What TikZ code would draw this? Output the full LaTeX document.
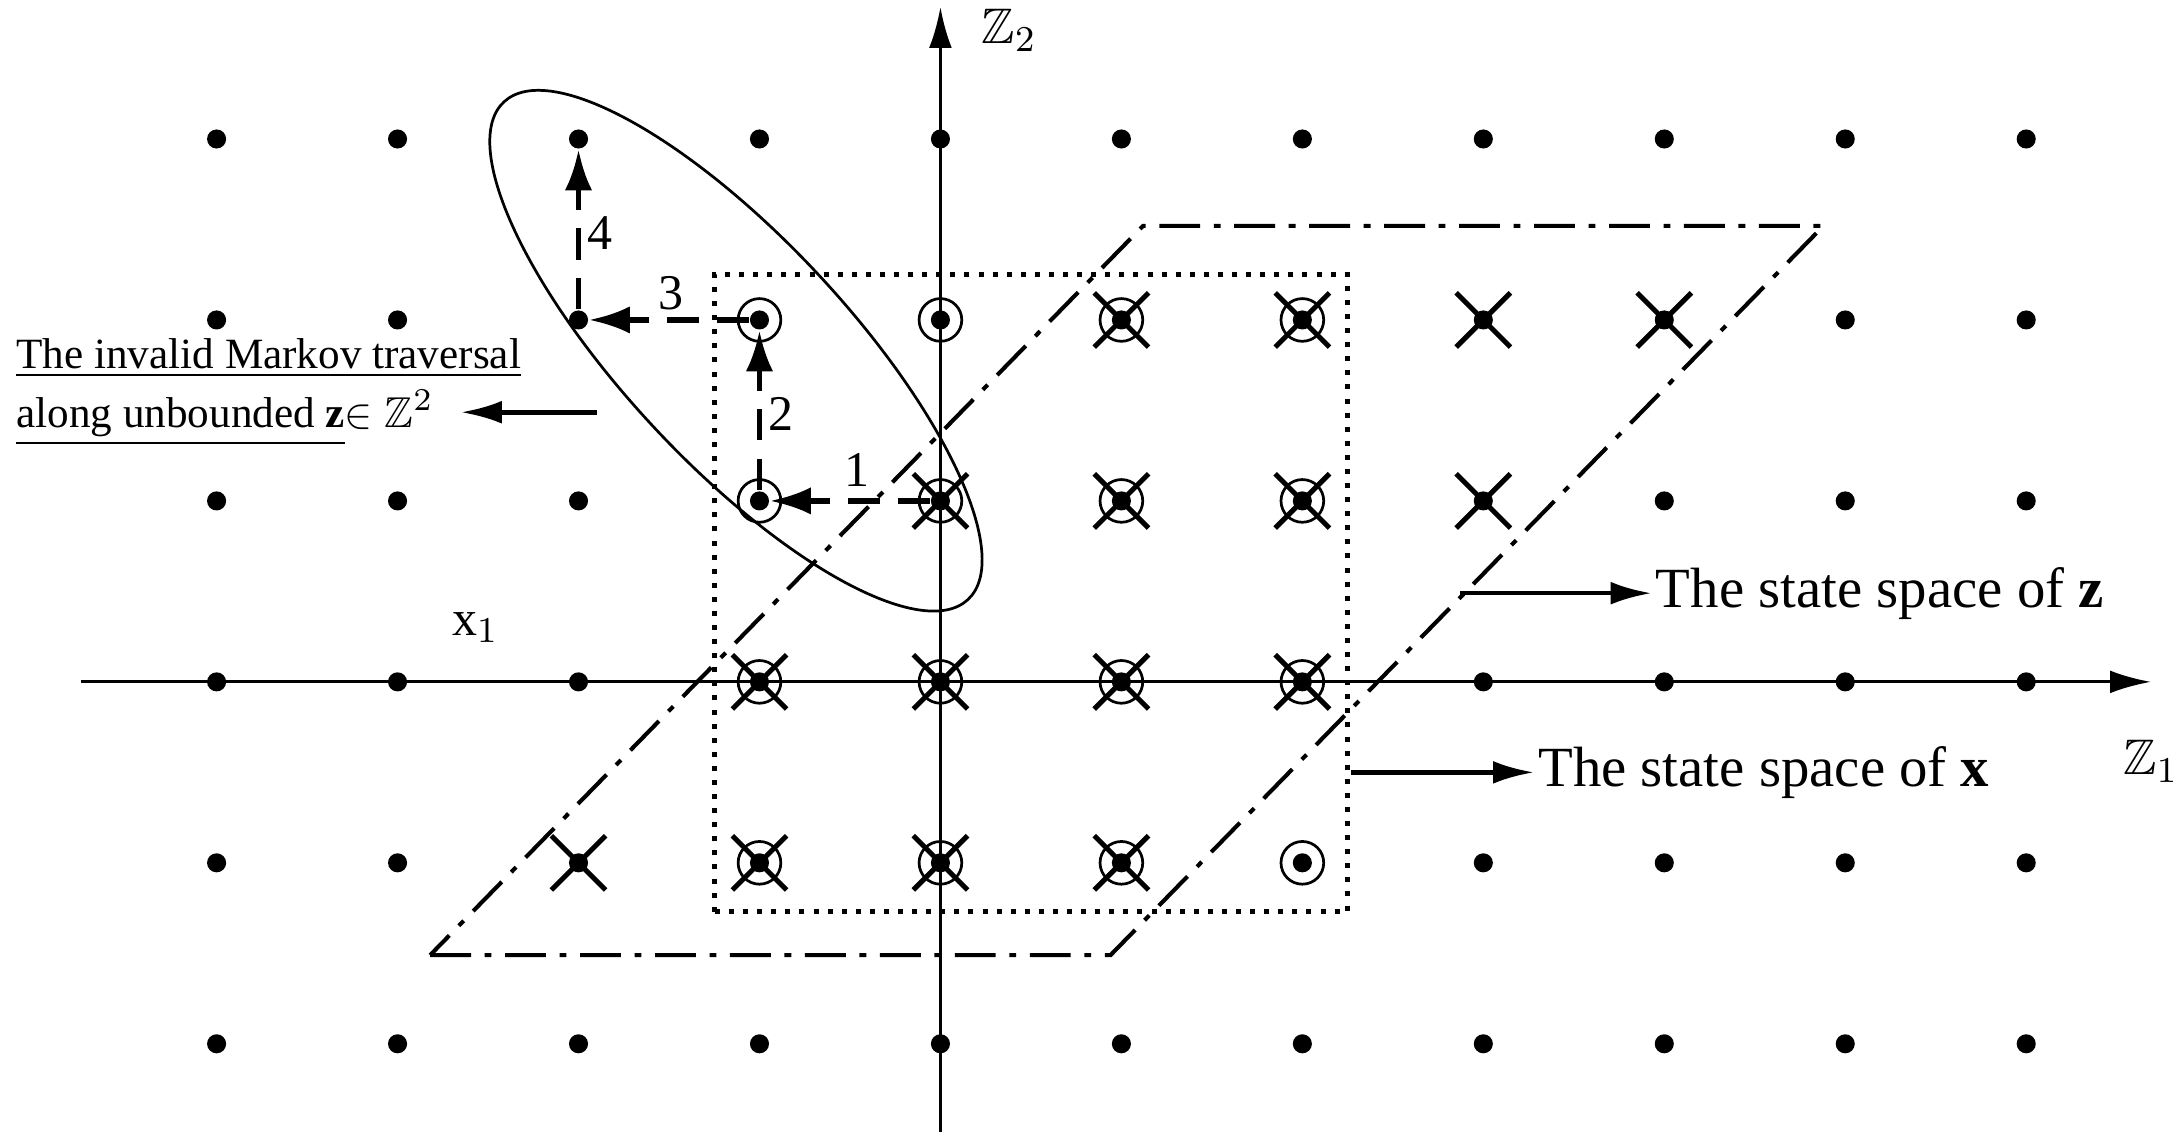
\documentclass[tikz,border=0pt]{standalone}
\usepackage{amssymb}
\usepackage{fontspec}
\setmainfont{Liberation Serif}
\usetikzlibrary{arrows.meta}
\tikzset{
  dot/.style={circle,fill=black,inner sep=0pt,minimum size=4.2pt},
  ring/.style={circle,draw,line width=0.6pt,inner sep=0pt,minimum size=9.4pt},
  walk/.style={line width=1.2pt,dash pattern=on 7pt off 4pt,-{Latex[length=9pt,width=6pt]}},
  pointer/.style={line width=1pt,-{Latex[length=9pt,width=5pt]}},
  lbl/.style={inner sep=0.75pt,font=\fontsize{11}{13}\selectfont}
}
\begin{document}
\begin{tikzpicture}[x=1.4cm,y=1.4cm,font=\fontsize{11}{13}\selectfont]
\useasboundingbox (-5.197,-2.525) rectangle (6.85,3.768);

% axes
\draw[line width=0.7pt,-{Latex[length=9pt,width=5pt]}] (-4.75,0) -- (6.69,0);
\draw[line width=0.7pt,-{Latex[length=9pt,width=5pt]}] (0,-2.49) -- (0,3.73);
\node[lbl] (z1) at (6.69,-0.44) {$\mathbb{Z}_1$};
\node[lbl] (z2) at (0.38,3.6) {$\mathbb{Z}_2$};
\node[lbl] (x1) at (-2.57,0.3) {x$_1$};

% lattice points
\foreach \i in {-4,...,6}
  \foreach \j in {-2,...,3}
    \node[dot] (p\i\j) at (\i,\j) {};

% circled points (state space of x)
\foreach \i in {-1,...,2}
  \foreach \j in {-1,...,2}
    \node[ring] at (\i,\j) {};

% crossed points (state space of z)
\foreach \j in {-1,...,2}
  \foreach \d in {-1,...,2}{
    \pgfmathtruncatemacro{\i}{\j+\d}
    \draw[line width=1.1pt] (\i,\j) ++(-0.15,-0.15) -- ++(0.3,0.3)
      (\i,\j) ++(-0.15,0.15) -- ++(0.3,-0.3);
  }

% regions
\draw[dotted,line width=1.1pt] (-1.25,-1.27) rectangle (2.25,2.25);
\draw[line width=0.9pt,dash pattern=on 9pt off 3pt on 1.5pt off 3pt]
  (-2.82,-1.51) -- (0.94,-1.51) -- (4.88,2.52) -- (1.12,2.52) -- cycle;
\draw[line width=0.6pt,rotate around={-47:(-1.13,1.83)}] (-1.13,1.83) ellipse (1.88 and 0.62);

% Markov traversal
\draw[walk] (p01) -- (p-11);
\draw[walk] (p-11) -- (p-12);
\draw[walk] (p-12) -- (p-22);
\draw[walk] (p-22) -- (p-23);
\node[lbl] (n1) at (-0.46,1.17) {1};
\node[lbl] (n2) at (-0.88,1.48) {2};
\node[lbl] (n3) at (-1.49,2.15) {3};
\node[lbl] (n4) at (-1.88,2.48) {4};

% annotations
\node[anchor=west,align=left,inner sep=0.75pt,font=\fontsize{9.5}{13}\selectfont] (trav) at (-5.13,1.6)
  {\underline{The invalid Markov traversal}\\
   \underline{along unbounded $\mathbf{z}$}$\in\mathbb{Z}^2$};
\coordinate (ell) at (-1.9,1.49);
\draw[pointer] (ell) -- (-2.65,1.49);

\coordinate (zs) at (2.87,0.49);
\node[lbl,anchor=west,font=\fontsize{12.5}{15}\selectfont] (ztext) at (3.93,0.49) {The state space of \textbf{z}};
\draw[pointer] (zs) -- (ztext.west);

\coordinate (xs) at (2.27,-0.5);
\node[lbl,anchor=west,font=\fontsize{12.5}{15}\selectfont] (xtext) at (3.28,-0.5) {The state space of \textbf{x}};
\draw[pointer] (xs) -- (xtext.west);
\end{tikzpicture}
\end{document}
